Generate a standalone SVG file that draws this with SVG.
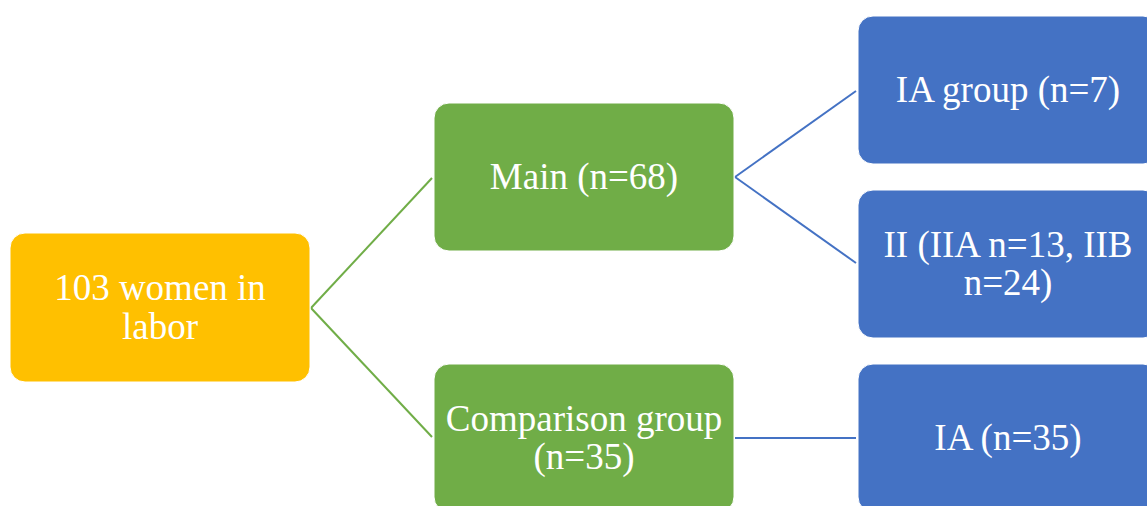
<svg xmlns="http://www.w3.org/2000/svg" width="1147" height="506" viewBox="0 0 1147 506">
<style>
.box{stroke:#ffffff;stroke-width:1}
.y{fill:#FFC000}
.g{fill:#70AD47}
.b{fill:#4472C4}
.t{font-family:"Liberation Serif","Times New Roman",serif;font-size:37px;fill:#ffffff;text-anchor:middle}
.cg{stroke:#70AD47;stroke-width:2;fill:none}
.cb{stroke:#4472C4;stroke-width:2;fill:none}
</style>
<rect width="1147" height="506" fill="#ffffff"/>
<g id="connectors">
<path class="cg" d="M311 308 L432 178"/>
<path class="cg" d="M311 308 L432 437"/>
<path class="cb" d="M735 177 L856 91"/>
<path class="cb" d="M735 177 L856 263"/>
<path class="cb" d="M735 438 L856 438"/>
</g>
<g id="n-women">
<rect class="box y" x="10" y="233" width="300" height="149" rx="15"/>
<text class="t" x="160" y="300">103 women in</text>
<text class="t" x="160" y="339">labor</text>
</g>
<g id="n-main">
<rect class="box g" x="434" y="103" width="300" height="148" rx="15"/>
<text class="t" x="584" y="189">Main (n=68)</text>
</g>
<g id="n-comparison">
<rect class="box g" x="434" y="364" width="300" height="148" rx="15"/>
<text class="t" x="584" y="431">Comparison group</text>
<text class="t" x="584" y="469">(n=35)</text>
</g>
<g id="n-ia-group">
<rect class="box b" x="858" y="16" width="300" height="148" rx="15"/>
<text class="t" x="1008" y="102">IA group (n=7)</text>
</g>
<g id="n-ii">
<rect class="box b" x="858" y="190" width="300" height="148" rx="15"/>
<text class="t" x="1008" y="257">II (IIA n=13, IIB</text>
<text class="t" x="1008" y="295">n=24)</text>
</g>
<g id="n-ia">
<rect class="box b" x="858" y="364" width="300" height="148" rx="15"/>
<text class="t" x="1008" y="450">IA (n=35)</text>
</g>
</svg>
